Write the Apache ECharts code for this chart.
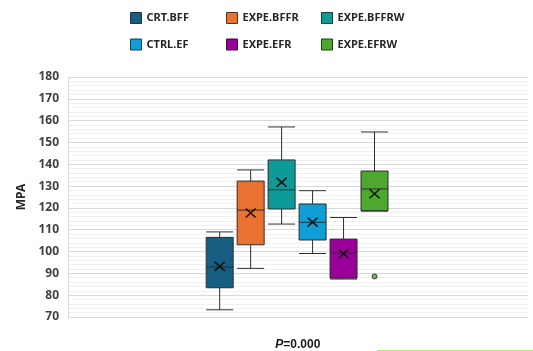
<!DOCTYPE html>
<html>
<head>
<meta charset="utf-8">
<script src="https://cdn.jsdelivr.net/npm/echarts@6/dist/echarts.min.js"></script>
<style>html,body{margin:0;padding:0;background:#fff;}#c{width:533px;height:351px;}</style>
</head>
<body>
<div id="c"></div>
<script>
// ---- data ----
var categories = ['CRT.BFF', 'EXPE.BFFR', 'EXPE.BFFRW', 'CTRL.EF', 'EXPE.EFR', 'EXPE.EFRW'];
var lowWhisker  = [73.3, 92.3, 112.6, 99.1, 87.4, 118.6];
var q1Values    = [83.4, 103.1, 119.5, 105.3, 87.8, 118.6];
var medians     = [92.9, 119.0, 128.3, 113.4, 99.3, 128.7];
var q3Values    = [106.5, 132.3, 142.0, 121.8, 105.7, 136.9];
var highWhisker = [109.0, 137.4, 157.1, 127.9, 115.6, 154.8];
var means       = [93.2, 117.7, 131.7, 113.5, 99.0, 126.5];
var outlierCats = ['EXPE.EFRW'];
var outlierVals = [88.6];
var yTicks = { min: 70, max: 180, interval: 10 };
var colors = ['#175F82', '#E97132', '#0E9A98', '#0F9ED5', '#990099', '#4EA72E'];
var borderColors = ['#1c3340', '#5a3018', '#0c3f3e', '#1a3f52', '#3d0a3d', '#1f3d14'];

var boxData = categories.map(function (c, i) {
  return {
    name: c,
    value: [lowWhisker[i], q1Values[i], medians[i], q3Values[i], highWhisker[i]],
    itemStyle: { color: colors[i], borderColor: '#2e2e2e', borderWidth: 1 }
  };
});

var legendPos = [[130, 12], [226, 12], [321, 12], [130, 38.5], [226, 38.5], [321, 38.5]];
var legends = categories.map(function (c, i) {
  return {
    data: [c], left: legendPos[i][0], top: legendPos[i][1],
    icon: 'rect', itemWidth: 11, itemHeight: 11, padding: 0,
    itemStyle: { color: colors[i], borderColor: borderColors[i], borderWidth: 1 },
    textStyle: { fontFamily: 'Noto Sans', fontWeight: 'bold', fontSize: 11, color: '#262626' },
    selectedMode: false
  };
});

// legend-only series (no data)
var dummySeries = categories.map(function (c, i) {
  return {
    name: c, type: 'bar', xAxisIndex: 0, yAxisIndex: 0, data: [],
    itemStyle: { color: colors[i], borderColor: borderColors[i], borderWidth: 1 }
  };
});

var chart = echarts.init(document.getElementById('c'), null, { renderer: 'canvas' });
chart.setOption({
  animation: false,
  legend: legends,
  grid: [
    { left: 68, right: 5, top: 77, bottom: 34 },
    { left: 204.2, width: 185.8, top: 77, bottom: 34 }
  ],
  xAxis: [
    { type: 'category', gridIndex: 0, data: [''], axisLine: { show: false }, axisTick: { show: false }, axisLabel: { show: false } },
    { type: 'category', gridIndex: 1, data: categories, show: false, boundaryGap: true }
  ],
  yAxis: [
    {
      type: 'value', gridIndex: 0, min: yTicks.min, max: yTicks.max, interval: yTicks.interval,
      name: 'MPA', nameLocation: 'middle', nameGap: 40, nameRotate: 90,
      nameTextStyle: { fontFamily: 'Noto Sans', fontWeight: 'bold', fontSize: 12, color: '#262626' },
      axisLine: { show: true, lineStyle: { color: '#d9d9d9' } },
      axisTick: { show: false },
      axisLabel: { margin: 9, fontFamily: 'Noto Sans', fontWeight: 'bold', fontSize: 12, color: '#404040' },
      splitLine: { show: true, lineStyle: { color: '#d9d9d9', width: 1 } },
      minorTick: { show: false, splitNumber: 5 },
      minorSplitLine: { show: true, lineStyle: { color: '#f0f0f0', width: 1 } }
    },
    { type: 'value', gridIndex: 1, min: yTicks.min, max: yTicks.max, interval: yTicks.interval, show: false, splitLine: { show: false } }
  ],
  series: dummySeries.concat([
    {
      type: 'boxplot', xAxisIndex: 1, yAxisIndex: 1, boxWidth: [27, 27],
      data: boxData, z: 3
    },
    {
      type: 'scatter', xAxisIndex: 1, yAxisIndex: 1, z: 5,
      symbol: 'path://M0,0L10,10M10,0L0,10', symbolSize: [10, 9],
      itemStyle: { color: 'none', borderColor: '#000', borderWidth: 1.6 },
      data: categories.map(function (c, i) { return [c, means[i]]; })
    },
    {
      type: 'scatter', xAxisIndex: 1, yAxisIndex: 1, z: 5,
      symbol: 'circle', symbolSize: 5,
      itemStyle: { color: colors[5], borderColor: '#1a1a1a', borderWidth: 1 },
      data: outlierCats.map(function (c, i) { return [c, outlierVals[i]]; })
    }
  ]),
  graphic: [
    {
      type: 'text', x: 297.8, y: 345,
      style: {
        text: '{i|P}{b|=0.000}', align: 'center', verticalAlign: 'middle',
        rich: {
          i: { fontFamily: 'Liberation Sans', fontStyle: 'italic', fontWeight: 'bold', fontSize: 12, fill: '#1a1a1a' },
          b: { fontFamily: 'Liberation Sans', fontWeight: 'bold', fontSize: 12, fill: '#1a1a1a' }
        }
      }
    },
    {
      type: 'line', shape: { x1: 377, y1: 350.5, x2: 533, y2: 350.5 },
      style: { stroke: '#b2ef7c', lineWidth: 1 }
    }
  ]
});
</script>
</body>
</html>
